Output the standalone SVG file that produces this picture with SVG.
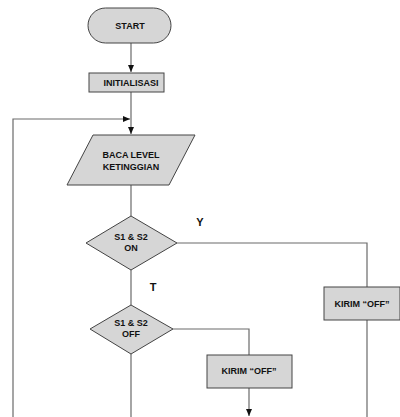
<svg xmlns="http://www.w3.org/2000/svg" width="400" height="417" viewBox="0 0 400 417">
<defs>
<marker id="ah" markerWidth="8" markerHeight="8" refX="7" refY="4" orient="auto" markerUnits="userSpaceOnUse">
<path d="M0,1 L7,4 L0,7 Z" fill="#111"/>
</marker>
<style>
.shape{fill:#d6d6d6;stroke:#444;stroke-width:1}
.con{fill:none;stroke:#6a6a6a;stroke-width:1.2}
.t{font-family:"Liberation Sans",Arial,sans-serif;font-weight:bold;font-size:9px;fill:#111;text-anchor:middle}
.lbl{font-family:"Liberation Sans",Arial,sans-serif;font-weight:bold;font-size:11px;fill:#111;text-anchor:middle}
</style>
</defs>
<rect width="400" height="417" fill="#fff"/>
<g id="connectors">
<path class="con" d="M131,43 V72" marker-end="url(#ah)"/>
<path class="con" d="M131,92 V134" marker-end="url(#ah)"/>
<path class="con" d="M13,417 V119 H130" marker-end="url(#ah)"/>
<path class="con" d="M131,184 V216"/>
<path class="con" d="M131,270 V305"/>
<path class="con" d="M177,243 H367 V287"/>
<path class="con" d="M367,320 V417"/>
<path class="con" d="M173,329 H249 V355"/>
<path class="con" d="M249,388 V416" marker-end="url(#ah)"/>
<path class="con" d="M131,354 V417"/>
</g>
<g id="start">
<rect class="shape" x="88" y="8" width="83" height="35" rx="17.5" ry="17.5"/>
<text class="t" x="130" y="29">START</text>
</g>
<g id="init">
<rect class="shape" x="89" y="73" width="75" height="19"/>
<text class="t" x="131" y="86">INITIALISASI</text>
</g>
<g id="baca">
<polygon class="shape" points="93,135 195,135 169,185 67,185"/>
<text class="t" x="131" y="158">BACA LEVEL</text>
<text class="t" x="131" y="170">KETINGGIAN</text>
</g>
<g id="dec1">
<polygon class="shape" points="131,216 177,243 131,270 86,243"/>
<text class="t" x="131" y="240">S1 &amp; S2</text>
<text class="t" x="131" y="251">ON</text>
</g>
<g id="dec2">
<polygon class="shape" points="131,305 173,329 131,354 90,329"/>
<text class="t" x="131" y="326">S1 &amp; S2</text>
<text class="t" x="131" y="337">OFF</text>
</g>
<g id="kirim1">
<rect class="shape" x="324" y="287" width="76" height="33"/>
<text class="t" x="362" y="307">KIRIM “OFF”</text>
</g>
<g id="kirim2">
<rect class="shape" x="207" y="355" width="85" height="33"/>
<text class="t" x="249" y="374">KIRIM “OFF”</text>
</g>
<text class="lbl" x="200" y="226">Y</text>
<text class="lbl" x="153" y="291">T</text>
</svg>
